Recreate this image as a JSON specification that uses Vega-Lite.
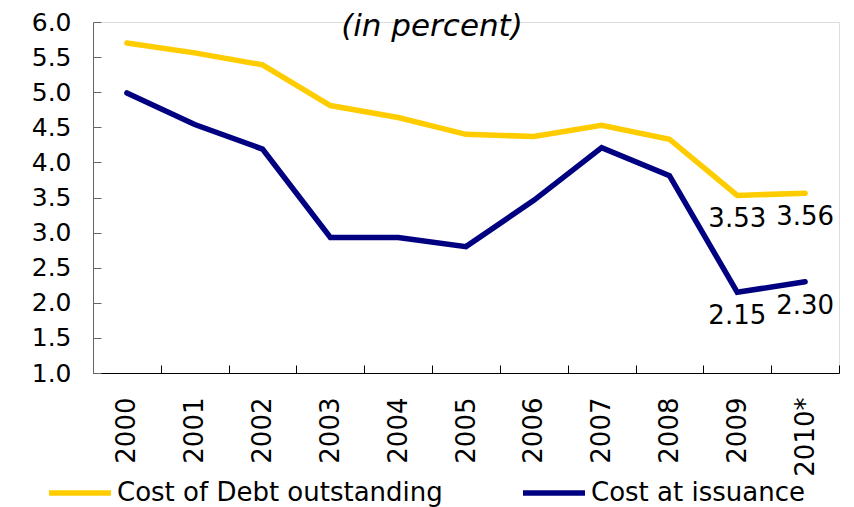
{
  "$schema": "https://vega.github.io/schema/vega-lite/v6.json",
  "width": 746,
  "height": 351,
  "autosize": {"type": "none"},
  "padding": {"left": 93, "top": 22, "right": 15, "bottom": 134},
  "background": "white",
  "title": {
    "text": "(in percent)",
    "font": "DejaVu Sans",
    "fontStyle": "italic",
    "fontWeight": "normal",
    "fontSize": 31,
    "color": "#000",
    "anchor": "middle",
    "frame": "group",
    "dx": -34,
    "offset": -57,
    "baseline": "alphabetic"
  },
  "data": {
    "values": [
      {"year": "2000", "series": "Cost of Debt outstanding", "value": 5.70},
      {"year": "2001", "series": "Cost of Debt outstanding", "value": 5.56},
      {"year": "2002", "series": "Cost of Debt outstanding", "value": 5.39},
      {"year": "2003", "series": "Cost of Debt outstanding", "value": 4.81},
      {"year": "2004", "series": "Cost of Debt outstanding", "value": 4.64},
      {"year": "2005", "series": "Cost of Debt outstanding", "value": 4.40},
      {"year": "2006", "series": "Cost of Debt outstanding", "value": 4.37},
      {"year": "2007", "series": "Cost of Debt outstanding", "value": 4.53},
      {"year": "2008", "series": "Cost of Debt outstanding", "value": 4.33},
      {"year": "2009", "series": "Cost of Debt outstanding", "value": 3.53},
      {"year": "2010*", "series": "Cost of Debt outstanding", "value": 3.56},
      {"year": "2000", "series": "Cost at issuance", "value": 4.99},
      {"year": "2001", "series": "Cost at issuance", "value": 4.54},
      {"year": "2002", "series": "Cost at issuance", "value": 4.19},
      {"year": "2003", "series": "Cost at issuance", "value": 2.93},
      {"year": "2004", "series": "Cost at issuance", "value": 2.93},
      {"year": "2005", "series": "Cost at issuance", "value": 2.80},
      {"year": "2006", "series": "Cost at issuance", "value": 3.46},
      {"year": "2007", "series": "Cost at issuance", "value": 4.21},
      {"year": "2008", "series": "Cost at issuance", "value": 3.81},
      {"year": "2009", "series": "Cost at issuance", "value": 2.15},
      {"year": "2010*", "series": "Cost at issuance", "value": 2.30}
    ]
  },
  "encoding": {
    "x": {
      "field": "year",
      "type": "ordinal",
      "bandPosition": 0.5,
      "scale": {"type": "band", "paddingInner": 0, "paddingOuter": 0},
      "axis": {
        "title": null,
        "labelAngle": 270,
        "labelFont": "DejaVu Sans",
        "labelFontSize": 26,
        "labelColor": "#000",
        "labelPadding": 32,
        "tickBand": "extent",
        "tickSize": -8,
        "tickColor": "#000",
        "domainColor": "#000",
        "grid": false
      }
    },
    "y": {
      "field": "value",
      "type": "quantitative",
      "scale": {"domain": [1, 6], "nice": false, "zero": false},
      "axis": {
        "title": null,
        "values": [1, 1.5, 2, 2.5, 3, 3.5, 4, 4.5, 5, 5.5, 6],
        "format": ".1f",
        "labelFont": "DejaVu Sans",
        "labelFontSize": 25,
        "labelColor": "#000",
        "labelPadding": 30,
        "tickSize": -8,
        "tickColor": "#666",
        "domainColor": "#666",
        "grid": false
      }
    }
  },
  "layer": [
    {
      "mark": {"type": "line", "strokeWidth": 5.5, "strokeCap": "round"},
      "encoding": {
        "color": {
          "field": "series",
          "type": "nominal",
          "scale": {
            "domain": ["Cost of Debt outstanding", "Cost at issuance"],
            "range": ["#FFCC00", "#000080"]
          },
          "legend": {
            "title": null,
            "orient": "none",
            "direction": "horizontal",
            "legendX": -47,
            "legendY": 437,
            "padding": 0,
            "symbolType": "stroke",
            "symbolSize": 3844,
            "symbolStrokeWidth": 5.5,
            "labelFont": "DejaVu Sans",
            "labelFontSize": 26,
            "labelColor": "#000",
            "labelOffset": 3,
            "columnPadding": 69,
            "labelLimit": 500
          }
        }
      }
    },
    {
      "transform": [{"filter": {"field": "year", "oneOf": ["2009", "2010*"]}}],
      "mark": {"type": "text", "dy": 24, "font": "DejaVu Sans", "fontSize": 26, "color": "#000", "baseline": "middle"},
      "encoding": {
        "text": {"field": "value", "type": "quantitative", "format": ".2f"}
      }
    }
  ]
}
